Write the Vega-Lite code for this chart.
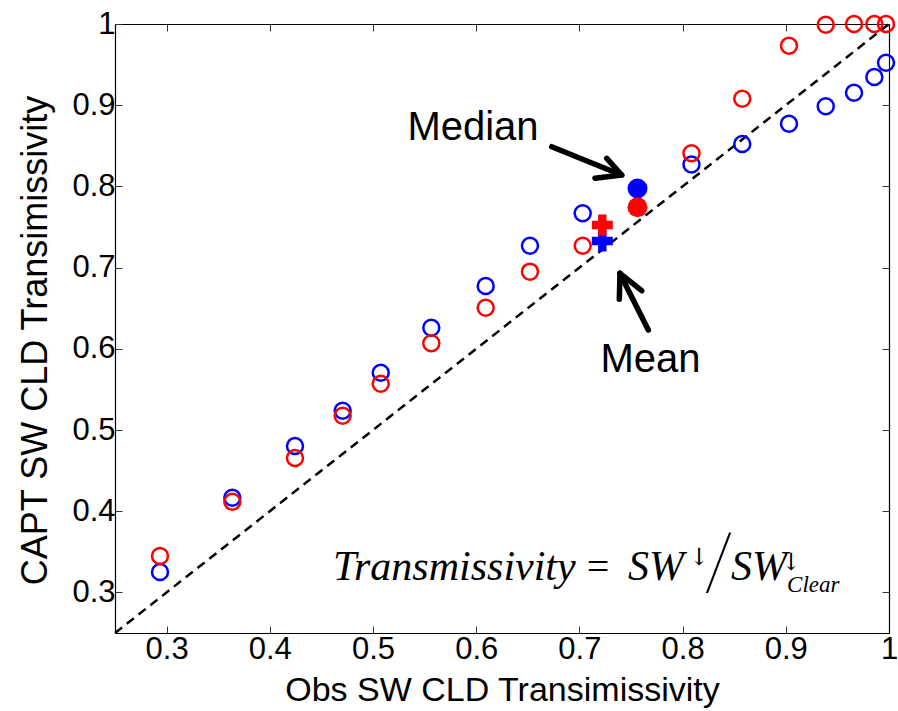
{
  "$schema": "https://vega.github.io/schema/vega-lite/v6.json",
  "width": 774,
  "height": 609,
  "autosize": "none",
  "padding": {"left": 115, "top": 24, "right": 9, "bottom": 78},
  "background": "white",
  "config": {
    "view": {"stroke": null},
    "axis": {
      "labelFont": "Liberation Sans",
      "titleFont": "Liberation Sans",
      "labelFontSize": 31,
      "titleFontSize": 34,
      "labelColor": "black",
      "titleColor": "black",
      "titleFontWeight": "normal",
      "domainColor": "black",
      "domainWidth": 1.2,
      "tickColor": "#333333",
      "tickWidth": 1,
      "tickSize": -7,
      "grid": false
    }
  },
  "datasets": {
    "pts": [
      {"obs": 0.2936, "capt": 0.3448, "series": "red"},
      {"obs": 0.2936, "capt": 0.3251, "series": "blue"},
      {"obs": 0.3637, "capt": 0.4117, "series": "red"},
      {"obs": 0.3637, "capt": 0.4166, "series": "blue"},
      {"obs": 0.4244, "capt": 0.4655, "series": "red"},
      {"obs": 0.4244, "capt": 0.4803, "series": "blue"},
      {"obs": 0.4706, "capt": 0.5176, "series": "red"},
      {"obs": 0.4706, "capt": 0.5238, "series": "blue"},
      {"obs": 0.5075, "capt": 0.557, "series": "red"},
      {"obs": 0.5075, "capt": 0.5706, "series": "blue"},
      {"obs": 0.5565, "capt": 0.6068, "series": "red"},
      {"obs": 0.5565, "capt": 0.626, "series": "blue"},
      {"obs": 0.6092, "capt": 0.6506, "series": "red"},
      {"obs": 0.6092, "capt": 0.6773, "series": "blue"},
      {"obs": 0.6521, "capt": 0.695, "series": "red"},
      {"obs": 0.6521, "capt": 0.727, "series": "blue"},
      {"obs": 0.7032, "capt": 0.727, "series": "red"},
      {"obs": 0.7032, "capt": 0.7669, "series": "blue"},
      {"obs": 0.8086, "capt": 0.8408, "series": "red"},
      {"obs": 0.8086, "capt": 0.827, "series": "blue"},
      {"obs": 0.8578, "capt": 0.908, "series": "red"},
      {"obs": 0.8578, "capt": 0.8522, "series": "blue"},
      {"obs": 0.9031, "capt": 0.9733, "series": "red"},
      {"obs": 0.9031, "capt": 0.8772, "series": "blue"},
      {"obs": 0.9387, "capt": 0.9991, "series": "red"},
      {"obs": 0.9387, "capt": 0.8987, "series": "blue"},
      {"obs": 0.9661, "capt": 1.0, "series": "red"},
      {"obs": 0.9661, "capt": 0.9154, "series": "blue"},
      {"obs": 0.9858, "capt": 1.0, "series": "red"},
      {"obs": 0.9858, "capt": 0.9347, "series": "blue"},
      {"obs": 0.9971, "capt": 1.0, "series": "red"},
      {"obs": 0.9971, "capt": 0.9523, "series": "blue"}
    ],
    "means": [
      {"obs": 0.7222, "capt": 0.7328, "series": "blue"},
      {"obs": 0.7222, "capt": 0.7525, "series": "red"}
    ],
    "medians": [
      {"obs": 0.7563, "capt": 0.7974, "series": "blue"},
      {"obs": 0.7563, "capt": 0.7743, "series": "red"}
    ],
    "diag": [
      {"x": 0.25, "y": 0.25},
      {"x": 1.0, "y": 1.0}
    ],
    "arrows": [
      {"x": 0.6732, "y": 0.8489, "x2": 0.7390, "y2": 0.8150},
      {"x": 0.7410, "y": 0.8140, "x2": 0.7151, "y2": 0.8100},
      {"x": 0.7410, "y": 0.8140, "x2": 0.7265, "y2": 0.8346},
      {"x": 0.7668, "y": 0.6232, "x2": 0.7400, "y2": 0.6910},
      {"x": 0.7393, "y": 0.6930, "x2": 0.7387, "y2": 0.6610},
      {"x": 0.7393, "y": 0.6930, "x2": 0.7604, "y2": 0.6716}
    ]
  },
  "layer": [
    {
      "data": {"name": "diag"},
      "mark": {"type": "line", "color": "black", "strokeWidth": 2.5, "strokeDash": [9, 6]},
      "encoding": {
        "x": {"field": "x", "type": "quantitative", "scale": {"domain": [0.25, 1], "nice": false, "zero": false},
              "axis": {"orient": "top", "labels": false, "title": null, "values": [0.3, 0.4, 0.5, 0.6, 0.7, 0.8, 0.9, 1.0]}},
        "y": {"field": "y", "type": "quantitative", "scale": {"domain": [0.25, 1], "nice": false, "zero": false},
              "axis": {"orient": "right", "labels": false, "title": null, "values": [0.3, 0.4, 0.5, 0.6, 0.7, 0.8, 0.9, 1.0]}}
      }
    },
    {
      "data": {"name": "pts"},
      "mark": {"type": "point", "shape": "circle", "filled": false, "size": 256, "strokeWidth": 2.5, "opacity": 1},
      "encoding": {
        "x": {"field": "obs", "type": "quantitative", "scale": {"domain": [0.25, 1], "nice": false, "zero": false},
              "axis": {"orient": "bottom", "title": "Obs SW CLD Transimissivity", "values": [0.3, 0.4, 0.5, 0.6, 0.7, 0.8, 0.9, 1.0],
                       "labelExpr": "datum.value == 1 ? '1' : format(datum.value, '.1f')", "labelPadding": 8, "titlePadding": 9, "labelFlush": false}},
        "y": {"field": "capt", "type": "quantitative", "scale": {"domain": [0.25, 1], "nice": false, "zero": false},
              "axis": {"orient": "left", "title": "CAPT SW CLD Transimissivity", "titleFontSize": 36, "titleY": 316, "values": [0.3, 0.4, 0.5, 0.6, 0.7, 0.8, 0.9, 1.0],
                       "labelExpr": "datum.value == 1 ? '1' : format(datum.value, '.1f')", "labelPadding": 7, "titlePadding": 17, "labelFlush": false}},
        "color": {"field": "series", "type": "nominal", "scale": {"domain": ["blue", "red"], "range": ["#0000ff", "#ff0000"]}, "legend": null},
        "order": {"field": "series", "sort": "ascending"}
      }
    },
    {
      "data": {"name": "means"},
      "mark": {"type": "point", "shape": "cross", "filled": true, "size": 441, "opacity": 1},
      "encoding": {
        "x": {"field": "obs", "type": "quantitative", "axis": null},
        "y": {"field": "capt", "type": "quantitative", "axis": null},
        "color": {"field": "series", "type": "nominal", "scale": {"domain": ["blue", "red"], "range": ["#0000ff", "#ff0000"]}, "legend": null}
      }
    },
    {
      "data": {"name": "medians"},
      "mark": {"type": "point", "shape": "circle", "filled": true, "size": 400, "opacity": 1},
      "encoding": {
        "x": {"field": "obs", "type": "quantitative", "axis": null},
        "y": {"field": "capt", "type": "quantitative", "axis": null},
        "color": {"field": "series", "type": "nominal", "scale": {"domain": ["blue", "red"], "range": ["#0000ff", "#ff0000"]}, "legend": null}
      }
    },
    {
      "data": {"name": "arrows"},
      "mark": {"type": "rule", "color": "black", "strokeWidth": 5.5, "strokeCap": "round"},
      "encoding": {
        "x": {"field": "x", "type": "quantitative", "axis": null},
        "y": {"field": "y", "type": "quantitative", "axis": null},
        "x2": {"field": "x2"},
        "y2": {"field": "y2"}
      }
    },
    {
      "data": {"values": [{"label": "Median", "x": 0.5969, "y": 0.8571}, {"label": "Mean", "x": 0.7689, "y": 0.5718}]},
      "mark": {"type": "text", "font": "Liberation Sans", "fontSize": 40, "align": "center", "baseline": "alphabetic", "color": "black"},
      "encoding": {
        "x": {"field": "x", "type": "quantitative", "axis": null},
        "y": {"field": "y", "type": "quantitative", "axis": null},
        "text": {"field": "label"}
      }
    },
    {
      "data": {"values": [{"label": "Transmissivity", "x": 0.4612, "y": 0.3153}, {"label": "SW", "x": 0.7471, "y": 0.3153}, {"label": "SW", "x": 0.8469, "y": 0.3153}]},
      "mark": {"type": "text", "font": "Liberation Serif", "fontStyle": "italic", "fontSize": 42, "align": "left", "baseline": "alphabetic", "color": "black"},
      "encoding": {
        "x": {"field": "x", "type": "quantitative", "axis": null},
        "y": {"field": "y", "type": "quantitative", "axis": null},
        "text": {"field": "label"}
      }
    },
    {
      "data": {"values": [{"label": "=", "x": 0.7180, "y": 0.3153}]},
      "mark": {"type": "text", "font": "Liberation Serif", "fontSize": 40, "align": "center", "baseline": "alphabetic", "color": "black"},
      "encoding": {
        "x": {"field": "x", "type": "quantitative", "axis": null},
        "y": {"field": "y", "type": "quantitative", "axis": null},
        "text": {"field": "label"}
      }
    },
    {
      "data": {"values": [{"label": "/", "x": 0.8355, "y": 0.3060}]},
      "mark": {"type": "text", "font": "Roboto", "fontWeight": 100, "fontSize": 78, "align": "center", "baseline": "alphabetic", "color": "black"},
      "encoding": {
        "x": {"field": "x", "type": "quantitative", "axis": null},
        "y": {"field": "y", "type": "quantitative", "axis": null},
        "text": {"field": "label"}
      }
    },
    {
      "data": {"values": [{"label": "↓", "x": 0.8159, "y": 0.3337}, {"label": "↓", "x": 0.9050, "y": 0.3276}]},
      "mark": {"type": "text", "font": "DejaVu Serif", "fontSize": 24, "align": "center", "baseline": "alphabetic", "color": "black"},
      "encoding": {
        "x": {"field": "x", "type": "quantitative", "axis": null},
        "y": {"field": "y", "type": "quantitative", "axis": null},
        "text": {"field": "label"}
      }
    },
    {
      "data": {"values": [{"label": "Clear", "x": 0.9012, "y": 0.3005}]},
      "mark": {"type": "text", "font": "Liberation Serif", "fontStyle": "italic", "fontSize": 23, "align": "left", "baseline": "alphabetic", "color": "black"},
      "encoding": {
        "x": {"field": "x", "type": "quantitative", "axis": null},
        "y": {"field": "y", "type": "quantitative", "axis": null},
        "text": {"field": "label"}
      }
    }
  ],
  "resolve": {"axis": {"x": "independent", "y": "independent"}}
}
